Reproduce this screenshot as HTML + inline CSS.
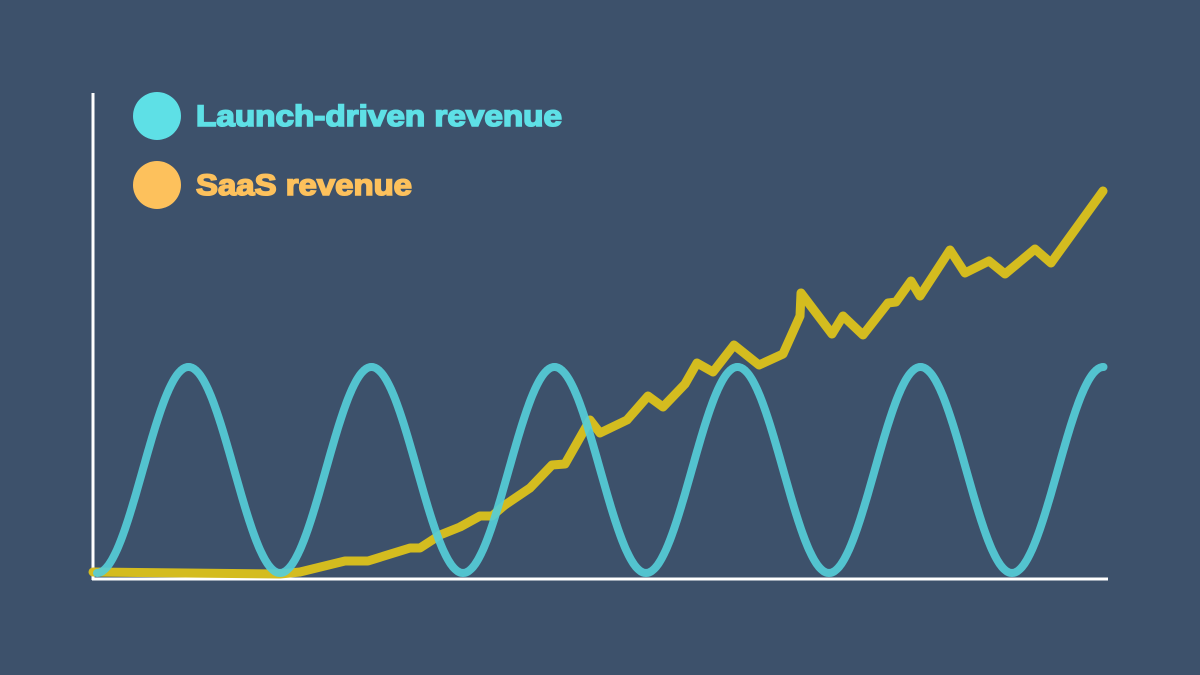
<!DOCTYPE html>
<html><head><meta charset="utf-8"><style>
html,body{margin:0;padding:0;background:#3d516b;}
svg{display:block}
text{font-family:"Liberation Sans",sans-serif;font-weight:bold;font-size:30px}
</style></head><body>
<svg width="1200" height="675" viewBox="0 0 1200 675">
<rect width="1200" height="675" fill="#3d516b"/>
<line x1="93" y1="93" x2="93" y2="580" stroke="#fff" stroke-width="3"/>
<line x1="92" y1="579" x2="1108" y2="579" stroke="#fff" stroke-width="3"/>
<circle cx="157" cy="116" r="24" fill="#5ee0e6"/>
<circle cx="157" cy="185" r="24" fill="#fdc15c"/>
<text x="196" y="126" fill="#5ee0e6" stroke="#5ee0e6" stroke-width="1.6" textLength="366" lengthAdjust="spacingAndGlyphs">Launch-driven revenue</text>
<text x="196" y="195" fill="#fdc15c" stroke="#fdc15c" stroke-width="1.6" textLength="216" lengthAdjust="spacingAndGlyphs">SaaS revenue</text>
<polyline fill="none" stroke="#d4bc1f" stroke-width="9" stroke-linejoin="round" stroke-linecap="round" points="93,572 280,574 300,572 345,561 368,561 410,548 420,548 440,535 460,527 480,516 492,516 505,505 530,488 552,465 565,464 590,420 600,433 627,420 648,396 663,407 685,384 697,363 713,372 734,345 759,365 783,354 800,316 801,293 832,334 843,316 863,335 888,303 896,302 911,281 920,296 950,250 965,273 989,261 1005,274 1035,249 1051,263 1103,191"/>
<path id="sine" fill="none" stroke="#55cdd8" stroke-opacity="0.92" stroke-width="8" stroke-linecap="round"
d="M97,573 C130.3,573 155.2,367 188.5,367 C221.8,367 246.7,573 280,573 C313.3,573 338.2,367 371.5,367 C404.8,367 429.7,573 463,573 C496.3,573 521.2,367 554.5,367 C587.8,367 612.7,573 646,573 C679.3,573 704.2,367 737.5,367 C770.8,367 795.7,573 829,573 C862.3,573 887.2,367 920.5,367 C953.8,367 978.7,573 1012,573 C1045.3,573 1070.2,367 1103.5,367"/>
</svg>
<script>
(function(){var d="";for(var x=97;x<=1103.5;x+=1){var y=470-103*Math.cos(2*Math.PI*(x-97)/183+Math.PI);d+=(d?"L":"M")+x.toFixed(1)+","+y.toFixed(1);}
var x2=1103.5;d+="L"+x2+","+(470-103*Math.cos(2*Math.PI*(x2-97)/183+Math.PI)).toFixed(1);
document.getElementById("sine").setAttribute("d",d);})();
</script>
</body></html>
